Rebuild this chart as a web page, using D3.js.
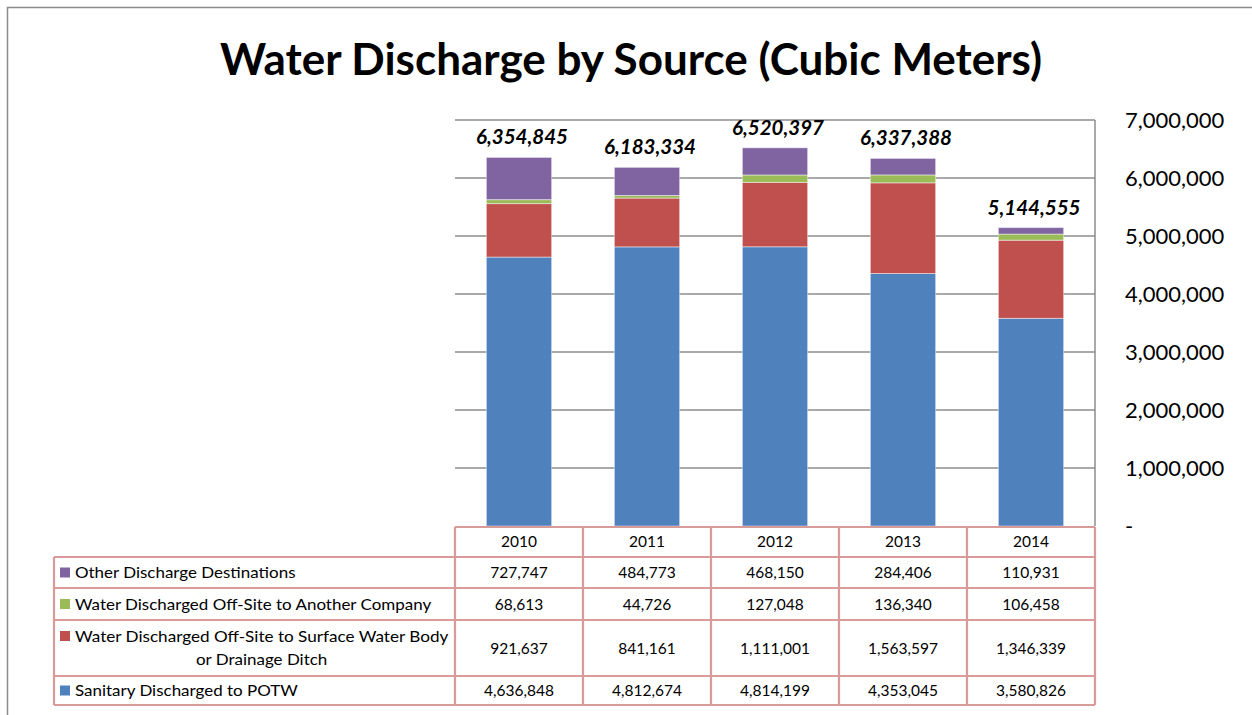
<!DOCTYPE html>
<html>
<head>
<meta charset="utf-8">
<script src="https://cdn.jsdelivr.net/npm/d3@7"></script>
<style>
  html, body { margin: 0; padding: 0; background: #fff; }
  svg { display: block; }
  text { font-family: Lato, "Open Sans", sans-serif; fill: #000; }
</style>
</head>
<body>
<svg id="chart" width="1252" height="715"></svg>
<script>
// ---- Data ----
const years = ["2010", "2011", "2012", "2013", "2014"];
const sanitary = [4636848, 4812674, 4814199, 4353045, 3580826];
const surfaceWater = [921637, 841161, 1111001, 1563597, 1346339];
const anotherCompany = [68613, 44726, 127048, 136340, 106458];
const otherDest = [727747, 484773, 468150, 284406, 110931];
const totals = [6354845, 6183334, 6520397, 6337388, 5144555];
const yTicks = [0, 1000000, 2000000, 3000000, 4000000, 5000000, 6000000, 7000000];

const seriesKeys = ["sanitary", "surface", "company", "other"];
const seriesColors = ["#4f81bd", "#c0504d", "#9bbb59", "#8064a2"];

const rows = years.map((yr, i) => ({
  year: yr, sanitary: sanitary[i], surface: surfaceWater[i],
  company: anotherCompany[i], other: otherDest[i], total: totals[i]
}));

// ---- Layout ----
const svg = d3.select("#chart");
const plotL = 455, plotR = 1095, plotT = 120, plotB = 526;

const x = d3.scaleBand().domain(years).range([plotL, plotR]).padding(0);
const y = d3.scaleLinear().domain([0, 7000000]).range([plotB, plotT]);
const barW = x.bandwidth() * 0.51;

function stretch(sel, k) {
  sel.each(function () {
    const w = this.getComputedTextLength();
    d3.select(this).attr("textLength", w * k).attr("lengthAdjust", "spacingAndGlyphs");
  });
}

// outer frame
svg.append("path").attr("d", "M7.5,715 L7.5,7.5 L1252,7.5")
  .attr("fill", "none").attr("stroke", "#8c8c8c").attr("stroke-width", 1.5);

// title
svg.append("text").attr("x", 631).attr("y", 75).attr("text-anchor", "middle")
  .attr("font-weight", "bold").attr("font-size", 44)
  .text("Water Discharge by Source (Cubic Meters)");

// gridlines
svg.append("g").selectAll("line").data(yTicks.filter(d => d > 0)).join("line")
  .attr("x1", plotL).attr("x2", plotR)
  .attr("y1", d => y(d)).attr("y2", d => y(d))
  .attr("stroke", "#8c8c8c").attr("stroke-width", 1.5);

// right axis line
svg.append("line").attr("x1", plotR).attr("x2", plotR).attr("y1", plotT).attr("y2", plotB)
  .attr("stroke", "#8c8c8c").attr("stroke-width", 1.5);

// y axis labels via d3 axis
const yAxis = d3.axisRight(y).tickValues(yTicks).tickSize(0).tickPadding(30)
  .tickFormat(d => d === 0 ? "-" : d3.format(",")(d));
const gAxis = svg.append("g").attr("transform", `translate(${plotR},0)`).call(yAxis);
gAxis.select(".domain").remove();
gAxis.selectAll("text").attr("font-size", 22).attr("font-family", "Lato, sans-serif").attr("fill", "#000");

// stacked bars
const stack = d3.stack().keys(seriesKeys);
const stacked = stack(rows);
svg.append("g").selectAll("g").data(stacked).join("g")
  .attr("fill", (d, i) => seriesColors[i])
  .selectAll("rect").data(d => d).join("rect")
  .attr("x", d => x(d.data.year) + (x.bandwidth() - barW) / 2)
  .attr("width", barW)
  .attr("y", d => y(d[1]))
  .attr("height", d => y(d[0]) - y(d[1]))
  .attr("stroke", "rgba(255,255,255,0.45)").attr("stroke-width", 1);

// total labels
svg.append("g").selectAll("text").data(rows).join("text")
  .attr("x", d => x(d.year) + x.bandwidth() / 2 + 3)
  .attr("y", d => y(d.total) - 13)
  .attr("text-anchor", "middle").attr("font-weight", "bold").attr("font-style", "italic")
  .attr("font-size", 20.5)
  .text(d => d3.format(",")(d.total));

// ---- Data table ----
const tblColor = "#d99a9a";
const legL = 54;
const hdrT = 527, hdrB = 557;
const rowDefs = [
  { key: "other", idx: 3, lines: ["Other Discharge Destinations"], top: 557, bot: 588 },
  { key: "company", idx: 2, lines: ["Water Discharged Off-Site to Another Company"], top: 588, bot: 620 },
  { key: "surface", idx: 1, lines: ["Water Discharged Off-Site to Surface Water Body", "or Drainage Ditch"], top: 620, bot: 676 },
  { key: "sanitary", idx: 0, lines: ["Sanitary Discharged to POTW"], top: 676, bot: 705 }
];
const tbl = svg.append("g");
const fs = 15.5, lfs = 16;

// header
tbl.selectAll("text.hdr").data(years).join("text").attr("class", "hdr")
  .attr("x", d => x(d) + x.bandwidth() / 2).attr("y", (hdrT + hdrB) / 2 + 5)
  .attr("text-anchor", "middle").attr("font-size", fs).text(d => d);

rowDefs.forEach(r => {
  const cy = (r.top + r.bot) / 2;
  // legend marker
  tbl.append("rect").attr("x", 60).attr("y", (r.lines.length > 1 ? r.top + 16 : cy) - 5)
    .attr("width", 10).attr("height", 10).attr("fill", seriesColors[r.idx]);
  if (r.lines.length === 1) {
    const t = tbl.append("text").attr("x", 75).attr("y", cy + 5.5).attr("font-size", lfs).text(r.lines[0]);
    stretch(t, 1.06);
  } else {
    const t1 = tbl.append("text").attr("x", 75).attr("y", r.top + 21.5).attr("font-size", lfs).text(r.lines[0]);
    stretch(t1, 1.07);
    const w1 = +t1.attr("textLength");
    const t2 = tbl.append("text").attr("x", 75 + w1 / 2).attr("y", r.top + 45).attr("text-anchor", "middle")
      .attr("font-size", lfs).text(r.lines[1]);
    stretch(t2, 1.06);
  }
  tbl.selectAll(null).data(rows).join("text")
    .attr("x", d => x(d.year) + x.bandwidth() / 2).attr("y", cy + 5.5)
    .attr("text-anchor", "middle").attr("font-size", fs)
    .text(d => d3.format(",")(d[r.key]));
});

// table borders
const hLines = [
  [plotL, plotR, hdrT],
  ...[557, 588, 620, 676, 705].map(v => [legL, plotR, v])
];
tbl.selectAll("line.h").data(hLines).join("line").attr("class", "h")
  .attr("x1", d => d[0]).attr("x2", d => d[1]).attr("y1", d => d[2]).attr("y2", d => d[2])
  .attr("stroke", tblColor).attr("stroke-width", 2.2);
const vLines = [[legL, 557, 705], ...years.map(yr => [x(yr), hdrT, 705]), [plotR, hdrT, 705]];
tbl.selectAll("line.v").data(vLines).join("line").attr("class", "v")
  .attr("x1", d => d[0]).attr("x2", d => d[0]).attr("y1", d => d[1]).attr("y2", d => d[2])
  .attr("stroke", tblColor).attr("stroke-width", 2.2);
</script>
</body>
</html>
